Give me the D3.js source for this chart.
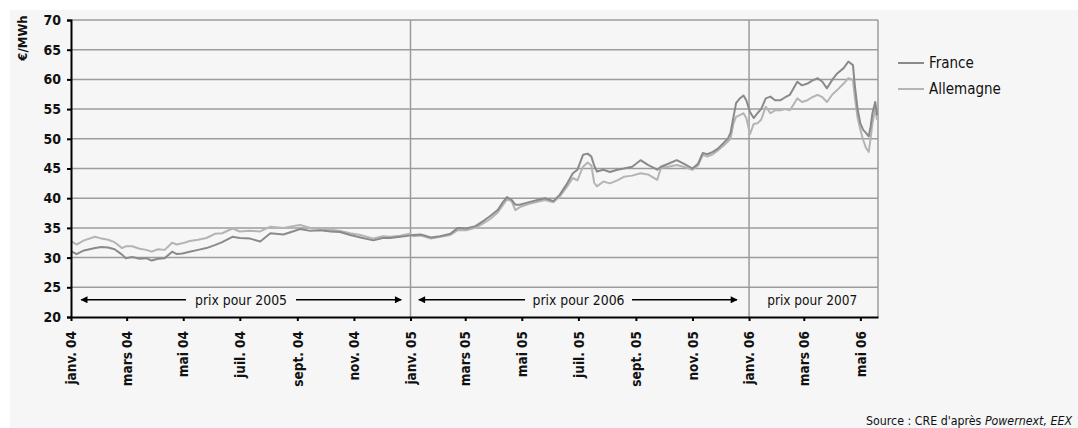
<!DOCTYPE html>
<html>
<head>
<meta charset="utf-8">
<script src="https://cdn.jsdelivr.net/npm/d3@7"></script>
<style>
  body { margin: 0; background: #fff; }
  svg text { font-family: "Liberation Sans Narrow", "DejaVu Sans Condensed", "Roboto Condensed", sans-serif; fill: #111; }
</style>
</head>
<body>
<div class="chart"></div>
<script>
// data
const dates = [
  "2004-01-02","2004-01-07","2004-01-15","2004-01-27","2004-02-03","2004-02-10","2004-02-17","2004-02-25","2004-02-29",
  "2004-03-07","2004-03-15","2004-03-22","2004-03-28","2004-04-04","2004-04-11","2004-04-19","2004-04-24","2004-04-30",
  "2004-05-08","2004-05-17","2004-05-26","2004-06-04","2004-06-12","2004-06-23","2004-07-01","2004-07-12","2004-07-23",
  "2004-08-03","2004-08-17","2004-08-27","2004-09-04","2004-09-15","2004-09-26","2004-10-07","2004-10-17","2004-10-28",
  "2004-11-08","2004-11-22","2004-12-02","2004-12-10","2004-12-21","2004-12-31",
  "2005-01-04","2005-01-12","2005-01-23","2005-02-02","2005-02-13","2005-02-21","2005-03-02","2005-03-12","2005-03-20",
  "2005-03-28","2005-04-05","2005-04-10","2005-04-15","2005-04-20","2005-04-24","2005-04-29","2005-05-08","2005-05-18",
  "2005-05-26","2005-06-04","2005-06-11","2005-06-19","2005-06-25","2005-06-30","2005-07-06","2005-07-11","2005-07-15",
  "2005-07-18","2005-07-21","2005-07-28","2005-08-04","2005-08-12","2005-08-19","2005-08-28","2005-09-06","2005-09-14",
  "2005-09-24","2005-09-28","2005-10-06","2005-10-15","2005-10-24","2005-11-01","2005-11-07","2005-11-12","2005-11-17",
  "2005-11-23","2005-11-28","2005-12-04","2005-12-09","2005-12-12","2005-12-15","2005-12-18","2005-12-22","2005-12-26",
  "2005-12-29",
  "2006-01-02","2006-01-06","2006-01-10","2006-01-14","2006-01-19","2006-01-24","2006-01-29","2006-02-04","2006-02-09",
  "2006-02-14","2006-02-22","2006-02-27","2006-03-05","2006-03-10","2006-03-16","2006-03-21","2006-03-26","2006-04-01",
  "2006-04-06","2006-04-13","2006-04-18","2006-04-23","2006-04-25","2006-04-28","2006-05-01","2006-05-04","2006-05-07",
  "2006-05-10","2006-05-12","2006-05-14","2006-05-17","2006-05-19"
];
const france = [
  31.0,30.6,31.2,31.6,31.8,31.7,31.4,30.5,29.9,
  30.1,29.8,29.9,29.5,29.8,29.9,31.0,30.6,30.7,
  31.0,31.3,31.6,32.1,32.6,33.5,33.3,33.2,32.7,
  34.1,33.9,34.4,34.8,34.5,34.6,34.4,34.3,33.8,
  33.4,32.9,33.3,33.3,33.5,33.7,
  33.8,33.9,33.4,33.6,34.0,35.0,34.9,35.3,36.1,
  37.0,38.0,39.2,40.2,39.7,38.9,38.9,39.3,39.7,
  40.0,39.5,40.6,42.5,44.2,44.8,47.3,47.5,47.0,
  45.5,44.5,44.8,44.4,44.8,45.0,45.3,46.4,45.6,
  44.8,45.3,45.8,46.4,45.7,45.0,45.8,47.6,47.4,
  47.8,48.3,49.2,50.0,51.0,53.5,56.0,56.8,57.3,
  56.5,
  54.5,53.5,54.3,55.0,56.8,57.1,56.5,56.5,57.0,
  57.4,59.6,59.0,59.3,59.8,60.2,59.6,58.5,60.0,
  61.0,61.9,63.0,62.4,59.0,55.0,52.6,51.5,51.0,
  50.4,52.0,54.3,56.2,54.0
];
const allemagne = [
  32.7,32.2,32.9,33.5,33.2,33.0,32.6,31.6,31.9,
  31.9,31.5,31.3,31.0,31.4,31.3,32.5,32.2,32.4,
  32.8,33.0,33.3,34.0,34.1,34.9,34.4,34.5,34.4,
  35.2,35.0,35.3,35.5,35.0,34.9,34.7,34.5,34.1,
  33.8,33.2,33.6,33.5,33.7,34.0,
  33.6,33.7,33.2,33.5,33.8,34.6,34.6,35.0,35.7,
  36.5,37.6,38.7,39.8,39.5,38.0,38.5,39.0,39.4,
  39.7,39.3,40.3,42.0,43.4,43.0,45.3,46.0,45.5,
  42.6,42.0,42.8,42.5,43.0,43.6,43.8,44.2,44.0,
  43.1,45.1,45.3,45.6,45.2,44.8,45.5,47.3,47.0,
  47.4,48.0,48.8,49.5,50.0,52.5,53.7,54.0,54.3,
  53.5,
  50.8,52.5,52.6,53.2,55.4,54.3,54.8,54.8,55.0,
  54.8,56.8,56.2,56.5,57.0,57.4,57.0,56.2,57.5,
  58.2,59.3,60.2,59.9,57.0,53.5,51.5,49.8,48.5,
  47.8,50.0,52.6,55.0,53.2
];
const yTicks = [20, 25, 30, 35, 40, 45, 50, 55, 60, 65, 70];
const xTickDates = ["2004-01-01","2004-03-01","2004-05-01","2004-07-01","2004-09-01","2004-11-01",
  "2005-01-01","2005-03-01","2005-05-01","2005-07-01","2005-09-01","2005-11-01",
  "2006-01-01","2006-03-01","2006-05-01"];
const xTickLabels = ["janv. 04","mars 04","mai 04","juil. 04","sept. 04","nov. 04",
  "janv. 05","mars 05","mai 05","juil. 05","sept. 05","nov. 05",
  "janv. 06","mars 06","mai 06"];
const dividers = ["2005-01-01", "2006-01-01"];
const seriesNames = ["France", "Allemagne"];
const periods = [
  {label: "prix pour 2005", from: "2004-01-12", to: "2004-12-22", gap: [186, 296]},
  {label: "prix pour 2006", from: "2005-01-10", to: "2005-12-19", gap: [525, 632]},
  {label: "prix pour 2007", at: "2006-03-10"}
];

const parse = d3.timeParse("%Y-%m-%d");
const W = 1078, H = 428;
const margin = {top: 20, right: 200, bottom: 111, left: 71};

const svg = d3.select(".chart").append("svg").attr("width", W).attr("height", H);
svg.append("rect").attr("x", 10).attr("y", 10).attr("width", W - 10).attr("height", H - 10).attr("fill", "#f6f6f6");

const x = d3.scaleTime().domain([parse("2004-01-01"), parse("2006-05-20")]).range([margin.left, W - margin.right]);
const y = d3.scaleLinear().domain([20, 70]).range([H - margin.bottom, margin.top]);

// grid
svg.append("g").selectAll("line").data(yTicks.filter(v => v > 20)).join("line")
  .attr("x1", x.range()[0]).attr("x2", x.range()[1])
  .attr("y1", d => y(d)).attr("y2", d => y(d))
  .attr("stroke", "#9c9c9c").attr("stroke-width", 1.5);
svg.append("g").selectAll("line").data(dividers.map(parse).concat([x.domain()[1]])).join("line")
  .attr("x1", d => x(d)).attr("x2", d => x(d))
  .attr("y1", y(70)).attr("y2", y(20))
  .attr("stroke", "#9c9c9c").attr("stroke-width", 1.5);

// lines
const rows = dates.map((d, i) => ({date: parse(d), france: france[i], allemagne: allemagne[i]}));
const colors = {france: "#8a8a8a", allemagne: "#b4b4b4"};
["allemagne", "france"].forEach(k => {
  svg.append("path").datum(rows)
    .attr("fill", "none").attr("stroke", colors[k]).attr("stroke-width", 2)
    .attr("stroke-linejoin", "round")
    .attr("d", d3.line().x(d => x(d.date)).y(d => y(d[k])));
});

// axes
const yAxis = d3.axisLeft(y).tickValues(yTicks).tickSize(4).tickPadding(6);
const gy = svg.append("g").attr("transform", `translate(${margin.left},0)`).call(yAxis);
gy.select(".domain").attr("stroke", "#000").attr("stroke-width", 2);
gy.selectAll(".tick line").attr("stroke", "#000").attr("stroke-width", 2);
gy.selectAll("text").attr("font-size", 14).attr("font-weight", "bold").attr("fill", "#111");

const xAxis = d3.axisBottom(x).tickValues(xTickDates.map(parse))
  .tickFormat((d, i) => xTickLabels[i]).tickSize(4).tickSizeOuter(0);
const gx = svg.append("g").attr("transform", `translate(0,${y(20)})`).call(xAxis);
gx.select(".domain").attr("stroke", "#000").attr("stroke-width", 2);
gx.selectAll(".tick line").attr("stroke", "#000").attr("stroke-width", 2);
gx.selectAll("text")
  .attr("font-size", 13.5).attr("font-weight", "bold").attr("fill", "#111")
  .attr("text-anchor", "end").attr("dy", "0.35em")
  .attr("transform", "translate(0,14) rotate(-90)")
  .attr("x", 0).attr("y", 0);

svg.append("text").attr("transform", "translate(22,38) rotate(-90)")
  .attr("text-anchor", "middle").attr("dy", "0.35em")
  .attr("font-size", 13).attr("font-weight", "bold").text("€/MWh");

// period arrows
const defs = svg.append("defs");
defs.append("marker").attr("id", "ah").attr("viewBox", "0 0 10 10").attr("refX", 9).attr("refY", 5)
  .attr("markerWidth", 9).attr("markerHeight", 7).attr("markerUnits", "userSpaceOnUse").attr("orient", "auto-start-reverse")
  .append("path").attr("d", "M0,0 L10,5 L0,10 z").attr("fill", "#000");
const ay = y(22.9);
periods.forEach(p => {
  if (p.from) {
    const x0 = x(parse(p.from)), x1 = x(parse(p.to));
    svg.append("line").attr("x1", x0).attr("x2", p.gap[0]).attr("y1", ay).attr("y2", ay)
      .attr("stroke", "#000").attr("stroke-width", 1.6).attr("marker-start", "url(#ah)");
    svg.append("line").attr("x1", p.gap[1]).attr("x2", x1).attr("y1", ay).attr("y2", ay)
      .attr("stroke", "#000").attr("stroke-width", 1.6).attr("marker-end", "url(#ah)");
    svg.append("text").attr("x", (p.gap[0] + p.gap[1]) / 2).attr("y", ay).attr("dy", "0.35em")
      .attr("text-anchor", "middle").attr("font-size", 14.5)
      .attr("textLength", 92).attr("lengthAdjust", "spacingAndGlyphs").text(p.label);
  } else {
    svg.append("text").attr("x", x(parse(p.at))).attr("y", ay).attr("dy", "0.35em")
      .attr("text-anchor", "middle").attr("font-size", 14.5)
      .attr("textLength", 90).attr("lengthAdjust", "spacingAndGlyphs").text(p.label);
  }
});

// legend
const lg = svg.append("g").attr("transform", "translate(898,63)");
seriesNames.forEach((n, i) => {
  const k = n.toLowerCase();
  lg.append("line").attr("x1", 0).attr("x2", 26).attr("y1", i * 26).attr("y2", i * 26)
    .attr("stroke", colors[k]).attr("stroke-width", 2);
  lg.append("text").attr("x", 31).attr("y", i * 26).attr("dy", "0.35em").attr("font-size", 15).text(n);
});

// source
const src = svg.append("text").attr("x", 866).attr("y", 425).attr("font-size", 12.5)
  .attr("textLength", 206).attr("lengthAdjust", "spacingAndGlyphs");
src.append("tspan").text("Source : CRE d'après ");
src.append("tspan").attr("font-style", "italic").text("Powernext, EEX");
</script>
</body>
</html>
